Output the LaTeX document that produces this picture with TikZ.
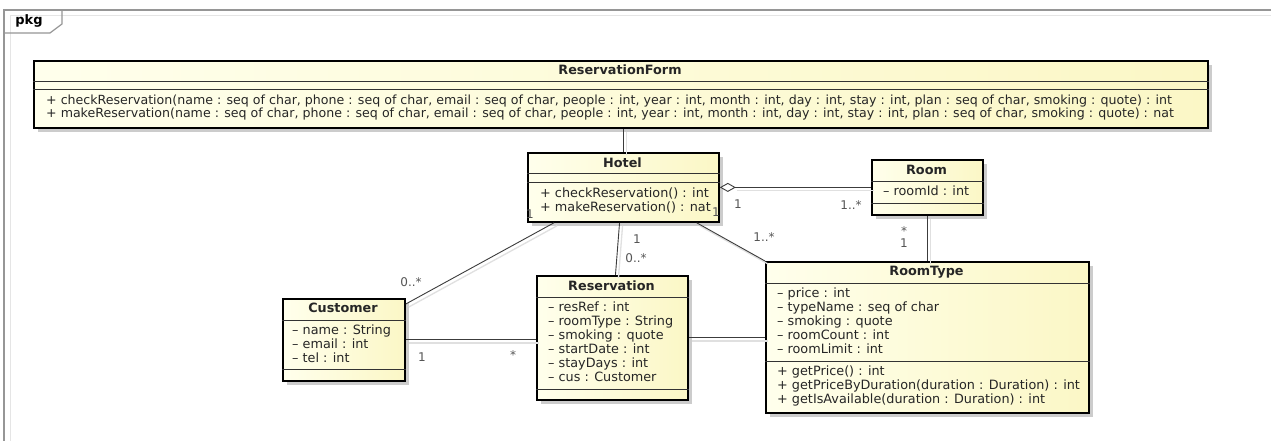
\documentclass[tikz,border=0pt]{standalone}
\usepackage{fontspec}
\setmainfont{DejaVu Sans}
\usetikzlibrary{arrows.meta,calc,shadows}
\definecolor{clsL}{RGB}{255,255,236}
\definecolor{clsR}{RGB}{251,247,198}
\definecolor{conncol}{RGB}{60,60,60}
\definecolor{labcol}{RGB}{85,85,85}
\definecolor{framecol}{RGB}{150,150,150}
\begin{document}
\begin{tikzpicture}[x=1pt,y=-1pt,
  cls/.style={draw=black, line width=1.8pt, left color=clsL, right color=clsR, inner sep=0pt, anchor=north west,
    drop shadow={shadow xshift=4pt, shadow yshift=-4pt, fill=black!20, opacity=1}},
  sep/.style={draw=black!80, line width=0.9pt},
  ttl/.style={font=\fontsize{12.8}{15}\selectfont\bfseries, text=black!85, inner sep=0pt, anchor=center, text height=9.4pt, text depth=2.7pt},
  txt/.style={font=\fontsize{12.8}{15}\selectfont, text=black!85, inner sep=0pt, anchor=west, text height=9.4pt, text depth=2.7pt},
  conn/.style={draw=conncol, line width=0.9pt},
  connshadow/.style={draw=black!12, line width=1.3pt, transform canvas={shift={(3pt,-3pt)}}},
  mult/.style={font=\fontsize{12}{14}\selectfont, text=labcol, inner sep=0pt, text height=8.7pt, text depth=0pt, anchor=center}
]
\useasboundingbox (0,0) rectangle (1271,441);
\fill[white] (0,0) rectangle (1271,441);

% package frame
\draw[black!10, line width=1pt] (10,441) -- (10,16) -- (1271,16);
\draw[framecol, line width=1.4pt] (4,441) -- (4,10) -- (1271,10);
\draw[framecol, line width=1.2pt] (4,33) -- (50,33) -- (62,24) -- (62,10);
\node[font=\fontsize{13}{15}\selectfont\bfseries, inner sep=0pt] (pkg) at (29,21) {pkg};

% ReservationForm
\node[cls, minimum width=1174pt, minimum height=67pt] (resform) at (33,60) {};
\draw[sep] ([yshift=-21pt]resform.north west) -- ([yshift=-21pt]resform.north east);
\draw[sep] ([yshift=-29pt]resform.north west) -- ([yshift=-29pt]resform.north east);
\node[ttl] (resformT) at (620,71) {ReservationForm};
\node[txt, font=\fontsize{12.6}{15}\selectfont] (resformM1) at (46,101) {+ checkReservation(name : seq of char, phone : seq of char, email : seq of char, people : int, year : int, month : int, day : int, stay : int, plan : seq of char, smoking : quote) : int};
\node[txt, font=\fontsize{12.6}{15}\selectfont] (resformM2) at (46,114) {+ makeReservation(name : seq of char, phone : seq of char, email : seq of char, people : int, year : int, month : int, day : int, stay : int, plan : seq of char, smoking : quote) : nat};

% Hotel
\node[cls, minimum width=191pt, minimum height=69pt] (hotel) at (527,152) {};
\draw[sep] ([yshift=-21pt]hotel.north west) -- ([yshift=-21pt]hotel.north east);
\draw[sep] ([yshift=-30pt]hotel.north west) -- ([yshift=-30pt]hotel.north east);
\node[ttl] (hotelT) at (622.5,164) {Hotel};
\node[txt] (hotelM1) at (540,194) {+ checkReservation() : int};
\node[txt] (hotelM2) at (540,208) {+ makeReservation() : nat};

% Room
\node[cls, minimum width=111pt, minimum height=55pt] (room) at (871,159) {};
\draw[sep] ([yshift=-22pt]room.north west) -- ([yshift=-22pt]room.north east);
\draw[sep] ([yshift=-44pt]room.north west) -- ([yshift=-44pt]room.north east);
\node[ttl] (roomT) at (926.5,171) {Room};
\node[txt] (roomA1) at (883,192) {– roomId : int};

% Customer
\node[cls, minimum width=122pt, minimum height=82pt] (customer) at (282,298) {};
\draw[sep] ([yshift=-22pt]customer.north west) -- ([yshift=-22pt]customer.north east);
\draw[sep] ([yshift=-71pt]customer.north west) -- ([yshift=-71pt]customer.north east);
\node[ttl] (customerT) at (343,309) {Customer};
\foreach \t [count=\i] in {– name : String, – email : int, – tel : int}
  \node[txt] (customerA\i) at (292,{317+14*\i}) {\t};

% Reservation
\node[cls, minimum width=151pt, minimum height=124pt] (reservation) at (536,275) {};
\draw[sep] ([yshift=-22pt]reservation.north west) -- ([yshift=-22pt]reservation.north east);
\draw[sep] ([yshift=-114pt]reservation.north west) -- ([yshift=-114pt]reservation.north east);
\node[ttl] (reservationT) at (611.5,287) {Reservation};
\foreach \t [count=\i] in {– resRef : int, – roomType : String, – smoking : quote, – startDate : int, – stayDays : int, – cus : Customer}
  \node[txt] (reservationA\i) at (548,{294+14*\i}) {\t};

% RoomType
\node[cls, minimum width=323pt, minimum height=151pt] (roomtype) at (765,261) {};
\draw[sep] ([yshift=-22pt]roomtype.north west) -- ([yshift=-22pt]roomtype.north east);
\draw[sep] ([yshift=-100pt]roomtype.north west) -- ([yshift=-100pt]roomtype.north east);
\node[ttl] (roomtypeT) at (926.5,272) {RoomType};
\foreach \t [count=\i] in {– price : int, – typeName : seq of char, – smoking : quote, – roomCount : int, – roomLimit : int}
  \node[txt] (roomtypeA\i) at (777,{280+14*\i}) {\t};
\foreach \t [count=\i] in {+ getPrice() : int, + getPriceByDuration(duration : Duration) : int, + getIsAvailable(duration : Duration) : int}
  \node[txt] (roomtypeM\i) at (777,{358+14*\i}) {\t};

% connector anchors
\coordinate (hotelS1) at ($(hotel.south west)!0.14!(hotel.south east)$);
\coordinate (hotelS2) at ($(hotel.south west)!0.48!(hotel.south east)$);
\coordinate (hotelS3) at ($(hotel.south west)!0.88!(hotel.south east)$);
\coordinate (resN) at ($(reservation.north west)!0.52!(reservation.north east)$);
\coordinate (custNE) at ([yshift=-6pt]customer.north east);

% connector shadows
\draw[connshadow] (hotel.north) -- (hotel.north |- resform.south);
\draw[connshadow] ([xshift=14pt]hotel.east) -- (room.west);
\draw[connshadow] (room.south) -- (room.south |- roomtype.north);
\draw[connshadow] (hotelS3) -- (roomtype.north west);
\draw[connshadow] (hotelS2) -- (resN);
\draw[connshadow] (hotelS1) -- (custNE);
\draw[connshadow] (customer.east) -- (customer.east -| reservation.west);
\draw[connshadow] (reservation.east) -- (reservation.east -| roomtype.west);

% connectors
\draw[conn] (hotel.north) -- (hotel.north |- resform.south);
\draw[conn, {Diamond[fill=white, length=16pt, width=9pt, line width=0.9pt]}-] (hotel.east) -- (room.west);
\draw[conn] (room.south) -- (room.south |- roomtype.north);
\draw[conn] (hotelS3) -- (roomtype.north west);
\draw[conn] (hotelS2) -- (resN);
\draw[conn] (hotelS1) -- (custNE);
\draw[conn] (customer.east) -- (customer.east -| reservation.west);
\draw[conn] (reservation.east) -- (reservation.east -| roomtype.west);

% multiplicities
\node[mult] (m1) at (530,214) {1};
\node[mult] (m2) at (716,212) {1};
\node[mult] (m3) at (738,204) {1};
\node[mult] (m4) at (851,205) {1..*};
\node[mult] (m5) at (904,231) {*};
\node[mult] (m6) at (904,243) {1};
\node[mult] (m7) at (764,237) {1..*};
\node[mult] (m8) at (637,239) {1};
\node[mult] (m9) at (636,258) {0..*};
\node[mult] (m10) at (411,282) {0..*};
\node[mult] (m11) at (422,357) {1};
\node[mult] (m12) at (513,355) {*};
\end{tikzpicture}
\end{document}
